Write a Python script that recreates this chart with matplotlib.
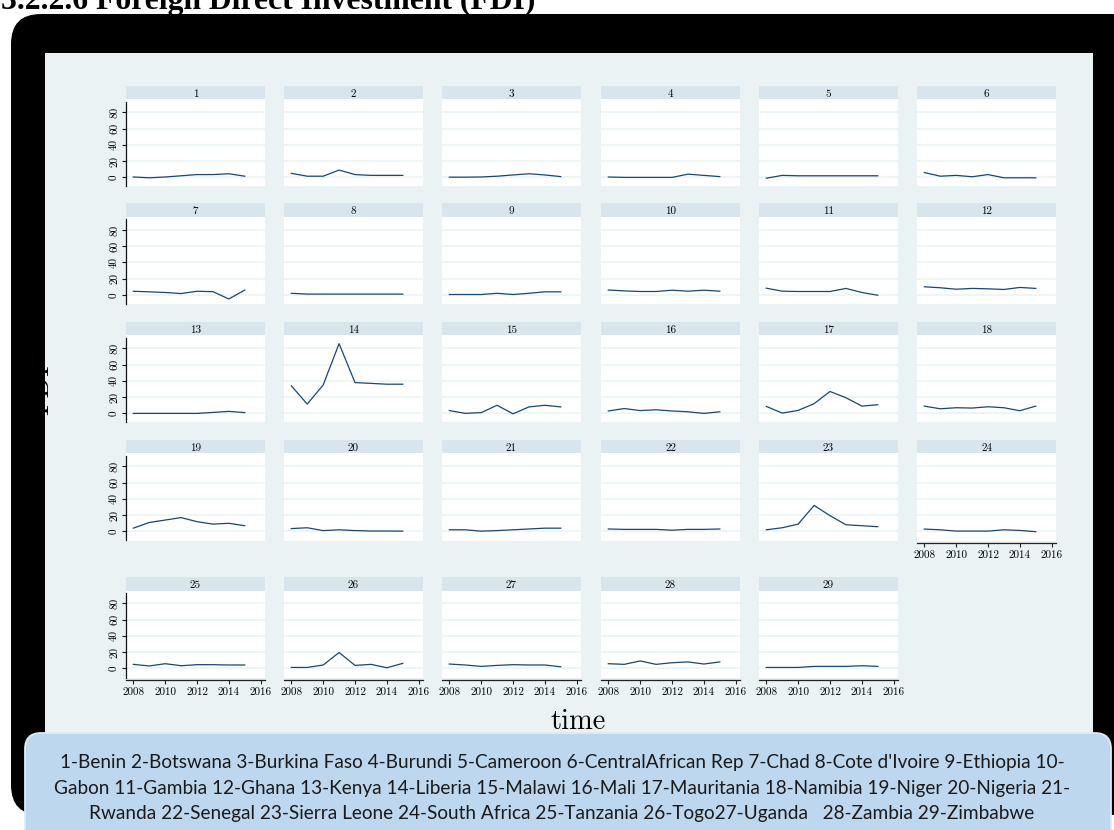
import numpy as np
import matplotlib.pyplot as plt
from matplotlib.patches import FancyBboxPatch, Rectangle

# FDI by country, 2008-2015
years = [2008, 2009, 2010, 2011, 2012, 2013, 2014, 2015]

benin = [0.5, -0.5, 0.5, 2, 3.5, 3.5, 4.5, 1.5]
botswana = [5, 1.5, 1.5, 9, 3.5, 2.5, 2.5, 2.5]
burkina_faso = [0.3, 0.3, 0.5, 1.5, 3, 4.5, 3, 1]
burundi = [0.5, 0, 0, 0, 0, 4, 2.5, 1]
cameroon = [-1, 2.5, 2, 2, 2, 2, 2, 2]
central_african_rep = [6, 1.5, 2.5, 0.8, 3.5, -0.5, -0.5, -0.5]
chad = [4.5, 3.8, 3, 1.7, 4.5, 4, -5, 6]
cote_divoire = [2, 1, 1, 1, 1, 1, 1, 1]
ethiopia = [0.5, 0.5, 0.5, 2, 0.5, 2, 3.8, 3.8]
gabon = [6, 5, 4.2, 4.2, 5.8, 4.6, 5.8, 4.6]
gambia = [8.3, 4.6, 4.2, 4.2, 4.2, 8, 3, -0.4]
ghana = [10, 8.8, 7, 8, 7.5, 6.7, 9.2, 8]
kenya = [0, 0, 0, 0, 0, 1.2, 2.5, 1]
liberia = [34, 11.5, 35, 86, 38, 37, 36, 36]
malawi = [3.5, 0, 1, 10, -0.5, 8, 10, 8]
mali = [3, 6, 3.5, 4.5, 3, 2, 0, 2]
mauritania = [8.6, 0.4, 3.7, 12, 27, 19.3, 9, 10.7]
namibia = [9, 5.7, 7, 6.6, 8.2, 7, 3.3, 9]
niger = [4, 11, 14, 17, 12, 9, 10, 7]
nigeria = [3.5, 4.5, 1, 2, 1, 0.5, 0.5, 0.3]
rwanda = [2, 2, 0.3, 1, 2, 3, 4, 4]
senegal = [3, 2.5, 2.5, 2.5, 1.5, 2.5, 2.5, 3]
sierra_leone = [2, 4.5, 9, 32, 19.4, 8.2, 7, 5.8]
south_africa = [2.9, 2, 0.4, 0.4, 0.4, 2, 1.2, -0.4]
tanzania = [5, 3, 5.8, 3.3, 4.6, 4.6, 4.2, 4.2]
togo = [1.2, 1.2, 4.2, 19.6, 3.7, 5, 0.8, 6.2]
uganda = [5.4, 4.2, 2.5, 3.7, 4.6, 4.2, 4.2, 2]
zambia = [5.8, 5, 9.2, 5, 7, 8, 5.4, 8]
zimbabwe = [1.2, 1.2, 1.2, 2.5, 2.5, 2.5, 3.3, 2.5]

series = [benin, botswana, burkina_faso, burundi, cameroon, central_african_rep,
          chad, cote_divoire, ethiopia, gabon, gambia, ghana, kenya, liberia,
          malawi, mali, mauritania, namibia, niger, nigeria, rwanda, senegal,
          sierra_leone, south_africa, tanzania, togo, uganda, zambia, zimbabwe]

y_ticks = [0, 20, 40, 60, 80]
x_ticks = [2008, 2010, 2012, 2014, 2016]

legend_lines = [
    "1-Benin 2-Botswana 3-Burkina Faso 4-Burundi 5-Cameroon 6-CentralAfrican Rep 7-Chad 8-Cote d'Ivoire 9-Ethiopia 10-",
    "Gabon 11-Gambia 12-Ghana 13-Kenya 14-Liberia 15-Malawi 16-Mali 17-Mauritania 18-Namibia 19-Niger 20-Nigeria 21-",
    "Rwanda 22-Senegal 23-Sierra Leone 24-South Africa 25-Tanzania 26-Togo27-Uganda   28-Zambia 29-Zimbabwe",
]
heading = "3.2.2.6 Foreign Direct Investment (FDI)"

# layout in pixels
W, H = 1114, 830
col_left = [126, 284, 442, 601, 759, 917]
row_top = [86, 203.5, 322, 440, 577]
plot_w, plot_h, strip_h = 139, 87, 13.5
ylim = (-11.2, 96)
xlim = (2007.54, 2016.27)

region_color = '#EAF2F3'
strip_color = '#D9E5EC'
grid_color = '#EAF2F3'
line_color = '#1A476F'
serif = 'cmr10'


def box(left, top, w, h):
    return [left / W, 1 - (top + h) / H, w / W, h / H]


def fit_text(t, target_px):
    r = fig.canvas.get_renderer()
    w = t.get_window_extent(r).width
    t.set_fontsize(t.get_fontsize() * target_px / w)


fig = plt.figure(figsize=(W / 100, H / 100), dpi=100)

# page background, black frame and graph region
bg = fig.add_axes([0, 0, 1, 1], zorder=0)
bg.set_xlim(0, W)
bg.set_ylim(H, 0)
bg.axis('off')
bg.add_patch(FancyBboxPatch((11, 14), 1130, 801, boxstyle='round,pad=0,rounding_size=30',
                            facecolor='black', edgecolor='none'))
bg.add_patch(Rectangle((45, 53), 1048, 700, facecolor=region_color, edgecolor='none'))

head = bg.text(1, 8.5, heading, family='Liberation Serif', weight='bold', fontsize=20,
               ha='left', va='baseline', color='black')
fit_text(head, 535)

bg.text(578, 722, 'time', family=serif, fontsize=20.5, ha='center', va='center')
bg.text(54, 390, 'FDI', family=serif, fontsize=20.5, rotation=90, ha='right', va='center')

for i, vals in enumerate(series):
    r, c = divmod(i, 6)
    top, left = row_top[r], col_left[c]

    st = fig.add_axes(box(left, top, plot_w, strip_h), zorder=2)
    st.set_facecolor(strip_color)
    st.set_xticks([])
    st.set_yticks([])
    for sp in st.spines.values():
        sp.set_visible(False)
    st.text(0.5, 0.5, str(i + 1), transform=st.transAxes, ha='center',
            va='center_baseline', family=serif, fontsize=8)

    ax = fig.add_axes(box(left, top + strip_h, plot_w, plot_h), zorder=2)
    ax.set_facecolor('white')
    ax.plot(years, vals, color=line_color, lw=0.9)
    ax.set_xlim(*xlim)
    ax.set_ylim(*ylim)
    ax.set_yticks(y_ticks)
    ax.set_xticks(x_ticks)
    ax.grid(axis='y', color=grid_color, lw=1.1)
    ax.set_axisbelow(True)
    for sp in ax.spines.values():
        sp.set_visible(False)

    if c == 0:
        ax.spines['left'].set_visible(True)
        ax.spines['left'].set_color('#111111')
        ax.spines['left'].set_linewidth(0.9)
        ax.spines['left'].set_bounds(-11.2, 93.3)
        ax.tick_params(axis='y', length=3, width=0.8, color='#111111', pad=2,
                       labelsize=8, labelrotation=90)
        ax.set_yticklabels([str(v) for v in y_ticks], family=serif, va='center')
    else:
        ax.tick_params(axis='y', length=0, labelleft=False)

    if i >= 23:
        ax.spines['bottom'].set_visible(True)
        ax.spines['bottom'].set_position(('outward', 2))
        ax.spines['bottom'].set_color('#222222')
        ax.spines['bottom'].set_linewidth(0.9)
        ax.tick_params(axis='x', length=3, width=0.8, color='#222222', pad=2, labelsize=8)
        ax.set_xticklabels([str(v) for v in x_ticks], family=serif)
    else:
        ax.tick_params(axis='x', length=0, labelbottom=False)

# country key box
ov = fig.add_axes([0, 0, 1, 1], zorder=5)
ov.set_xlim(0, W)
ov.set_ylim(H, 0)
ov.axis('off')
ov.patch.set_alpha(0)
ov.add_patch(FancyBboxPatch((25, 733), 1086, 130, boxstyle='round,pad=0,rounding_size=16',
                            facecolor='#BDD7EE', edgecolor='#DDEBF7', lw=1.3))
texts = []
for k, (line, y) in enumerate(zip(legend_lines, [762, 788, 813])):
    texts.append(ov.text(562, y, line, family='Lato', fontsize=14, ha='center',
                         va='center', color='#1A1A1A'))
fit_text(texts[0], 1013)
for t in texts[1:]:
    t.set_fontsize(texts[0].get_fontsize())

fig.savefig('out.png', dpi=100)
